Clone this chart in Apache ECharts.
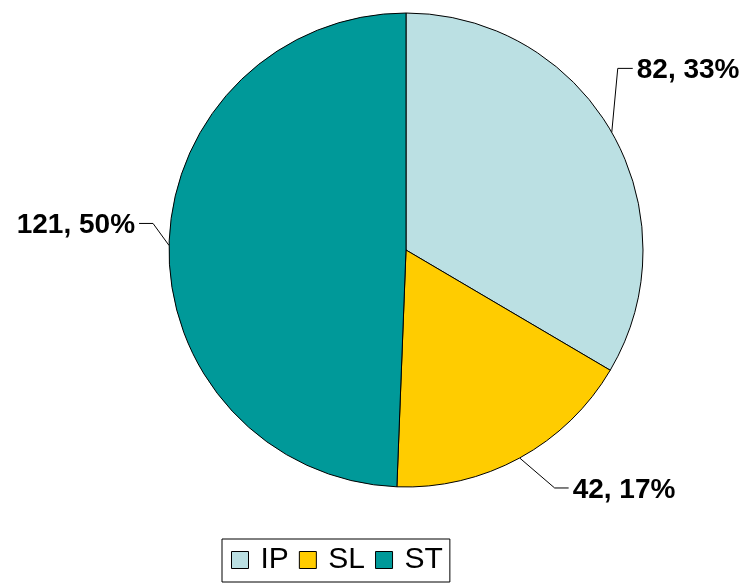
<!DOCTYPE html>
<html>
<head>
<meta charset="utf-8">
<script src="https://cdn.jsdelivr.net/npm/echarts@6/dist/echarts.min.js"></script>
<style>
html, body { margin: 0; padding: 0; background: #fff; }
#chart { width: 753px; height: 585px; }
</style>
</head>
<body>
<div id="chart"></div>
<script>
// categories, counts and the percentages printed on the chart
var names = ['IP', 'SL', 'ST'];
var counts = [82, 42, 121];
var percents = [33, 17, 50];
var colors = ['#BBE0E3', '#FFCC00', '#009999'];

// leader line bend, relative to where the line leaves the slice: [dx, dy, horizontal run]
var leaderBend = [[6, -64, 15], [35, 30, 14], [-16, -22, -14]];

var myChart = echarts.init(document.getElementById('chart'));

var pieData = [];
for (var i = 0; i < names.length; i++) {
	pieData.push({ name: names[i], value: counts[i], pct: percents[i], itemStyle: { color: colors[i] } });
}

option = {
	animation: false,
	legend: {
		left: 222,
		top: 539,
		orient: 'horizontal',
		data: names,
		icon: 'rect',
		itemWidth: 17,
		itemHeight: 17,
		itemGap: 10,
		padding: [6, 7, 7, 9],
		borderColor: '#000',
		borderWidth: 1,
		itemStyle: { borderColor: '#000', borderWidth: 1 },
		textStyle: { fontFamily: 'Liberation Sans, Arial', fontSize: 30, color: '#000', padding: [0, 0, 0, 7] }
	},
	series: [
		{
			type: 'pie',
			center: [406, 250],
			radius: 237,
			startAngle: 90,
			clockwise: true,
			data: pieData,
			itemStyle: { borderColor: '#000', borderWidth: 1 },
			label: {
				show: true,
				position: 'outside',
				overflow: 'none',
				formatter: function (p) { return p.value + ', ' + p.data.pct + '%'; },
				fontFamily: 'Liberation Sans, Arial',
				fontWeight: 'bold',
				fontSize: 28,
				color: '#000'
			},
			labelLine: {
				show: true,
				length: 20,
				length2: 15,
				lineStyle: { color: '#000', width: 1 }
			},
			labelLayout: function (params) {
				var b = leaderBend[params.dataIndex];
				var p0 = params.labelLinePoints[0];
				var p1 = [p0[0] + b[0], p0[1] + b[1]];
				var p2 = [p1[0] + b[2], p1[1]];
				var right = b[2] > 0;
				return {
					x: p2[0] + (right ? 4 : -4),
					y: p2[1] + 2,
					width: 200,
					align: right ? 'left' : 'right',
					verticalAlign: 'middle',
					labelLinePoints: [p0, p1, p2]
				};
			},
			emphasis: { disabled: true }
		}
	]
};
myChart.setOption(option);
</script>
</body>
</html>
